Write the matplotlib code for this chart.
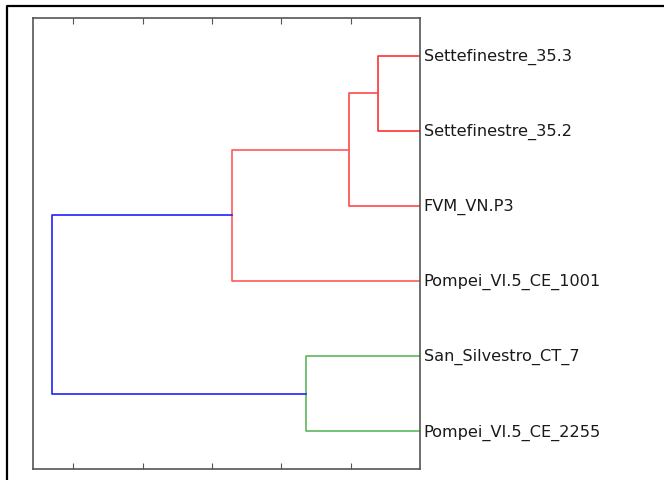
import numpy as np
import matplotlib
matplotlib.use("Agg")
import matplotlib.pyplot as plt

# leaf labels, bottom to top (as the dendrogram places them)
leaves = ['Pompei_VI.5_CE_2255', 'San_Silvestro_CT_7', 'Pompei_VI.5_CE_1001',
          'FVM_VN.P3', 'Settefinestre_35.2', 'Settefinestre_35.3']

# merges: (left node, right node, distance, colour); nodes 0-5 are leaves, 6+ are merges
merges = [
    (0, 1, 1.65, '#5cb85c'),   # 6
    (4, 5, 0.60, '#ff3030'),   # 7
    (3, 7, 1.02, '#ff4848'),   # 8
    (2, 8, 2.71, '#ff5a5a'),   # 9
    (6, 9, 5.30, '#2020ff'),   # 10
]
max_dist = 5.58
tick_vals = [1, 2, 3, 4, 5]

fig = plt.figure(figsize=(6.64, 4.81), dpi=100)
fig.patches.append(plt.Line2D([7 / 664, 7 / 664, 1.0], [0.0, 1 - 7 / 481, 1 - 7 / 481],
                              transform=fig.transFigure, color='black', lw=1.6))
ax = fig.add_axes([33 / 664, 1 - 470 / 481, 387 / 664, 451 / 481])

# positions of every node: y (center) and x (distance)
pos_y = [10 * i + 5 for i in range(len(leaves))]
pos_x = [0.0] * len(leaves)
for a, b, d, col in merges:
    ya, yb = pos_y[a], pos_y[b]
    ax.plot([pos_x[a], d, d, pos_x[b]], [ya, ya, yb, yb], color=col, lw=1.2)
    pos_y.append((ya + yb) / 2)
    pos_x.append(d)

ax.set_xlim(max_dist, 0)
ax.set_ylim(0, 10 * len(leaves))
ax.set_xticks(tick_vals)
ax.tick_params(axis='x', direction='in', top=True, bottom=True, labelbottom=False, length=4, color='#555555')
ax.set_yticks([])
for i, lab in enumerate(leaves):
    ax.text(1.01, (10 * i + 5) / 60, lab, transform=ax.transAxes, va='center', ha='left',
            fontsize=11.6, color='#1a1a1a')
for s in ax.spines.values():
    s.set_color('#555555')
    s.set_linewidth(1.2)

fig.savefig('out.png', dpi=100)
